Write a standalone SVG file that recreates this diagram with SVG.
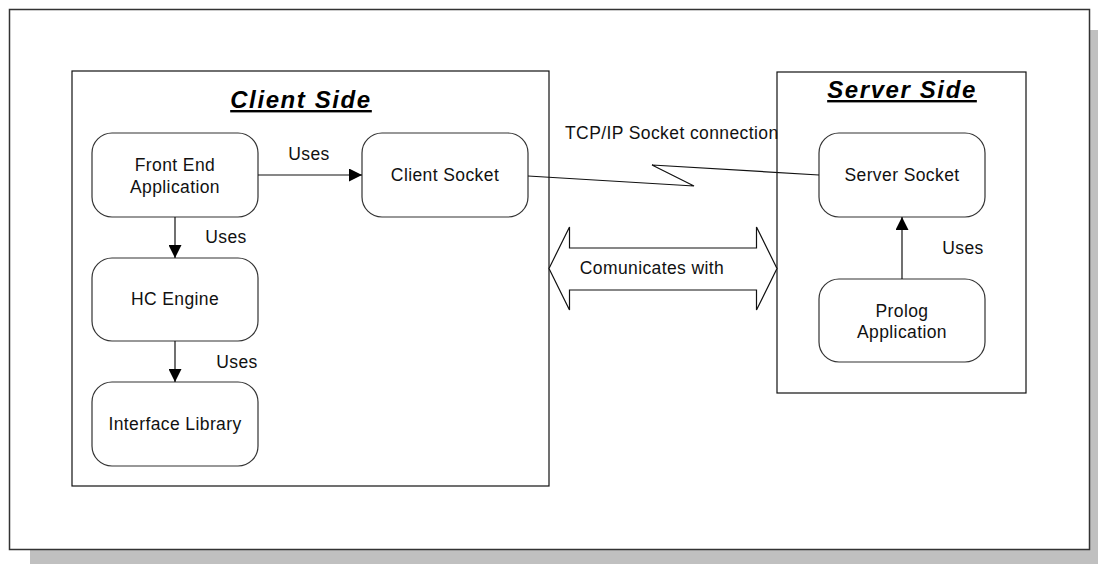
<svg xmlns="http://www.w3.org/2000/svg" width="1098" height="564" viewBox="0 0 1098 564">
<defs>
<style>
.t{font-family:"Liberation Sans",Arial,sans-serif;font-size:17.5px;letter-spacing:0.4px;fill:#111;text-anchor:middle}
.title{font-family:"Liberation Sans",Arial,sans-serif;font-size:24px;font-weight:bold;font-style:italic;letter-spacing:1.6px;fill:#000;text-anchor:middle;text-decoration:underline}
.node{fill:#fff;stroke:#333;stroke-width:1.2}
.box{fill:#fff;stroke:#111;stroke-width:1.2}
.c{fill:none;stroke:#111;stroke-width:1.2}
</style>
<marker id="ah" markerWidth="13" markerHeight="13" viewBox="0 0 13 13" refX="13" refY="6.5" orient="auto" markerUnits="userSpaceOnUse">
<path d="M0,0 L13,6.5 L0,13 Z" fill="#000"/>
</marker>
</defs>
<g id="background">
<rect x="30" y="30" width="1068" height="534" fill="#c0c0c0"/>
<rect x="9.5" y="9.5" width="1080" height="540" fill="#fff" stroke="#333" stroke-width="1.5"/>
</g>
<g id="client-side">
<rect class="box" x="72" y="71" width="477" height="415"/>
<text class="title" x="301" y="108">Client Side</text>
</g>
<g id="server-side">
<rect class="box" x="777" y="72" width="249" height="321"/>
<text class="title" x="902" y="98">Server Side</text>
</g>
<g id="front-end">
<rect class="node" x="92" y="133" width="166" height="84" rx="20"/>
<text class="t" x="175" y="171">Front End</text>
<text class="t" x="175" y="193">Application</text>
</g>
<g id="client-socket">
<rect class="node" x="362" y="133" width="166" height="84" rx="20"/>
<text class="t" x="445" y="181">Client Socket</text>
</g>
<g id="hc-engine">
<rect class="node" x="92" y="258" width="166" height="83" rx="20"/>
<text class="t" x="175" y="305">HC Engine</text>
</g>
<g id="interface-library">
<rect class="node" x="92" y="382" width="166" height="84" rx="20"/>
<text class="t" x="175" y="430">Interface Library</text>
</g>
<g id="server-socket">
<rect class="node" x="819" y="133" width="166" height="84" rx="20"/>
<text class="t" x="902" y="181">Server Socket</text>
</g>
<g id="prolog-application">
<rect class="node" x="819" y="279" width="166" height="83" rx="20"/>
<text class="t" x="902" y="317">Prolog</text>
<text class="t" x="902" y="338">Application</text>
</g>
<g id="connectors">
<line class="c" x1="258" y1="175" x2="362" y2="175" marker-end="url(#ah)"/>
<text class="t" x="309" y="160">Uses</text>
<line class="c" x1="175" y1="217" x2="175" y2="258" marker-end="url(#ah)"/>
<text class="t" x="226" y="243">Uses</text>
<line class="c" x1="175" y1="341" x2="175" y2="382" marker-end="url(#ah)"/>
<text class="t" x="237" y="368">Uses</text>
<line class="c" x1="902" y1="279" x2="902" y2="217" marker-end="url(#ah)"/>
<text class="t" x="963" y="254">Uses</text>
<polyline class="c" points="528,176 694,186 652,165 819,175"/>
<text class="t" x="565" y="139" style="text-anchor:start">TCP/IP Socket connection</text>
<polygon fill="#fff" stroke="#111" stroke-width="1.2" points="549,268.5 569.5,227 569.5,248 756.5,248 756.5,227 777,268.5 756.5,310 756.5,290 569.5,290 569.5,310"/>
<text class="t" x="652" y="274">Comunicates with</text>
</g>
</svg>
